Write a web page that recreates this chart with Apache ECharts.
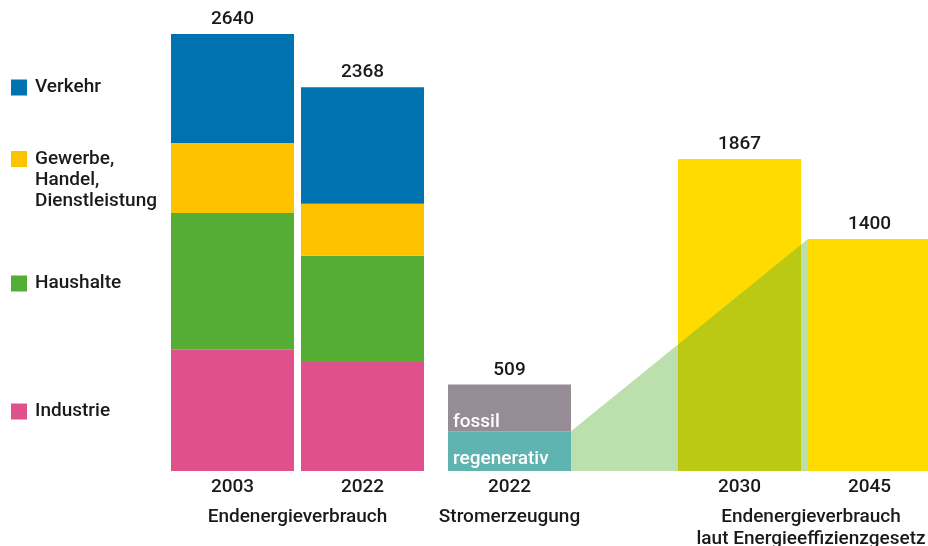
<!DOCTYPE html>
<html>
<head>
<meta charset="utf-8">
<script src="https://cdn.jsdelivr.net/npm/echarts@6/dist/echarts.min.js"></script>
<style>
html,body{margin:0;padding:0;background:#fff;}
#c{width:928px;height:546px;}
</style>
</head>
<body>
<div id="c"></div>
<script>
// ---- data (TWh) ----
const stackYears = ['2003', '2022'];
const industrie = [735, 658];
const haushalte = [823, 642];
const ghd = [423, 314];
const verkehr = [659, 705];

const stromYear = ['2022'];
const regenerativ = [240];
const fossil = [282];

const zielYears = ['2030', '2045'];
const ziel = [1885, 1401];

const totalLabels = ['2640', '2368', '509', '1867', '1400'];
const groupLabels = ['Endenergieverbrauch', 'Stromerzeugung', 'Endenergieverbrauch\nlaut Energieeffizienzgesetz'];

// ---- layout (x axis runs 0..928) ----
const stackX = [232.5, 362.5];
const stromX = [509.5];
const zielX = [739.5, 869.5];
const groupX = [297.5, 509.5, 811];
const BAR_W = 123;

const FONT = 'Roboto, "Noto Sans", "DejaVu Sans", sans-serif';
const FS = 19;
const FW = 500;
const TXT = '#1a1a1a';

const yearX = stackX.concat(stromX, zielX);
const yearLabels = stackYears.concat(stromYear, zielYears);

// items are [value, x] so that the value dimension is the one that gets stacked
const pair = (xs, vs) => vs.map((v, i) => [v, xs[i]]);

const stackTops = stackX.map((x, i) => [industrie[i] + haushalte[i] + ghd[i] + verkehr[i], x]);
const stromTops = stromX.map((x, i) => [regenerativ[i] + fossil[i], x]);
const zielTops = pair(zielX, ziel);
const totalPoints = stackTops.concat(stromTops, zielTops);

const barBase = {
  type: 'bar',
  barWidth: BAR_W,
  barGap: '-100%',
  encode: { x: 1, y: 0 },
  emphasis: { disabled: true },
  animation: false
};

const legendCommon = {
  orient: 'vertical',
  left: 11,
  padding: 0,
  itemWidth: 16,
  itemHeight: 16,
  icon: 'rect',
  selectedMode: false,
  textStyle: { fontFamily: FONT, fontSize: FS, fontWeight: FW, color: TXT, lineHeight: 16, padding: [0, 0, 0, 3] }
};

const chart = echarts.init(document.getElementById('c'), null, { renderer: 'canvas' });

const option = {
  animation: false,
  backgroundColor: '#ffffff',
  textStyle: { fontFamily: FONT },
  grid: { left: 0, right: 0, top: 34, bottom: 75, containLabel: false, outerBoundsMode: 'none' },
  legend: [
    Object.assign({}, legendCommon, { top: 78, data: ['Verkehr'] }),
    Object.assign({}, legendCommon, {
      top: 106.5,
      data: ['Gewerbe, Handel, Dienstleistung'],
      formatter: n => '\n\n' + n.replace(/, /g, ',\n'),
      textStyle: Object.assign({}, legendCommon.textStyle, { lineHeight: 21 })
    }),
    Object.assign({}, legendCommon, { top: 274, data: ['Haushalte'] }),
    Object.assign({}, legendCommon, { top: 402, data: ['Industrie'] })
  ],
  xAxis: [
    {
      type: 'value', min: 0, max: 928, position: 'bottom',
      axisLine: { show: false }, axisTick: { show: false }, splitLine: { show: false },
      axisLabel: {
        customValues: yearX,
        formatter: v => yearLabels[yearX.indexOf(v)] || '',
        margin: 6, fontFamily: FONT, fontSize: FS, fontWeight: FW, color: TXT, lineHeight: 20,
        hideOverlap: false, showMinLabel: true, showMaxLabel: true
      }
    },
    {
      type: 'value', min: 0, max: 928, position: 'bottom', offset: 0,
      axisLine: { show: false }, axisTick: { show: false }, splitLine: { show: false },
      axisLabel: {
        customValues: groupX,
        formatter: v => groupLabels[groupX.indexOf(v)] || '',
        margin: 35, fontFamily: FONT, fontSize: FS, fontWeight: FW, color: TXT, lineHeight: 22,
        hideOverlap: false, showMinLabel: true, showMaxLabel: true
      }
    }
  ],
  yAxis: { type: 'value', min: 0, max: 2640, show: false, splitLine: { show: false } },
  series: [
    Object.assign({}, barBase, { name: 'Industrie', stack: 'end', itemStyle: { color: '#e0508a' }, data: pair(stackX, industrie) }),
    Object.assign({}, barBase, { name: 'Haushalte', stack: 'end', itemStyle: { color: '#55ae33' }, data: pair(stackX, haushalte) }),
    Object.assign({}, barBase, { name: 'Gewerbe, Handel, Dienstleistung', stack: 'end', itemStyle: { color: '#fdc300' }, data: pair(stackX, ghd) }),
    Object.assign({}, barBase, { name: 'Verkehr', stack: 'end', itemStyle: { color: '#0072b0' }, data: pair(stackX, verkehr) }),
    Object.assign({}, barBase, {
      name: 'regenerativ', stack: 'strom', itemStyle: { color: '#5fb3b1' }, data: pair(stromX, regenerativ),
      label: { show: true, position: 'insideBottomLeft', distance: 5, offset: [0, 3], formatter: '{a}',
        color: '#ffffff', fontFamily: FONT, fontSize: FS, fontWeight: FW }
    }),
    Object.assign({}, barBase, {
      name: 'fossil', stack: 'strom', itemStyle: { color: '#958c95' }, data: pair(stromX, fossil),
      label: { show: true, position: 'insideBottomLeft', distance: 5, offset: [0, 5], formatter: '{a}',
        color: '#ffffff', fontFamily: FONT, fontSize: FS, fontWeight: FW }
    }),
    Object.assign({}, barBase, { name: 'Ziel', itemStyle: { color: '#ffdb00' }, data: zielTops }),
    {
      name: 'Summe', type: 'scatter', symbolSize: 0, silent: true,
      encode: { x: 1, y: 0 },
      itemStyle: { opacity: 1 },
      data: totalPoints,
      label: { show: true, position: 'top', distance: 5,
        formatter: p => totalLabels[p.dataIndex],
        color: TXT, opacity: 1, fontFamily: FONT, fontSize: FS, fontWeight: FW }
    },
    {
      name: 'Übergang', type: 'custom', silent: true, z: 3,
      data: [[stromX[0], regenerativ[0], zielX[1], ziel[1]]],
      encode: { x: [0, 2], y: [1, 3] },
      renderItem: function (params, api) {
        const a = api.coord([api.value(0), api.value(1)]);
        const b = api.coord([api.value(2), api.value(3)]);
        const base = api.coord([0, 0])[1];
        const half = api.size([BAR_W, 0])[0] / 2;
        return {
          type: 'polygon',
          shape: { points: [[a[0] + half, a[1]], [b[0] - half, b[1]], [b[0] - half, base], [a[0] + half, base]] },
          style: { fill: 'rgba(85,174,51,0.4)' }
        };
      }
    }
  ]
};

chart.setOption(option);
</script>
</body>
</html>
